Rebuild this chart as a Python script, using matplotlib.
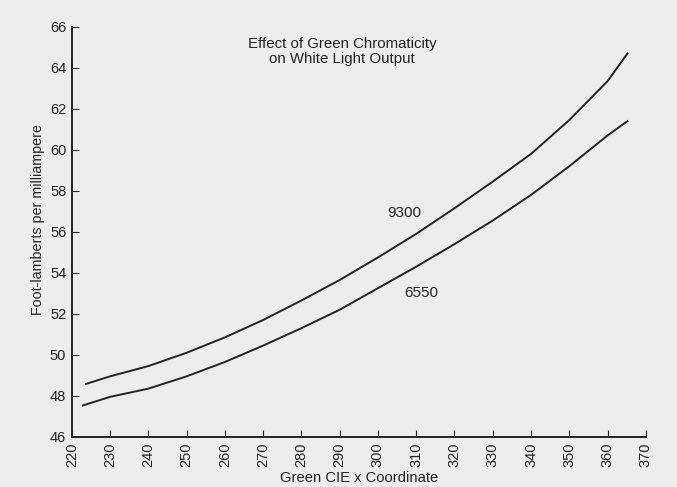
import matplotlib
matplotlib.use("Agg")
import matplotlib.pyplot as plt

plt.rcParams['font.family'] = ['Liberation Sans', 'DejaVu Sans']

# green CIE x coordinate (x1000) vs light output for the two white points
x_9300 = [223.7, 230, 240, 250, 260, 270, 280, 290, 300, 310, 320, 330, 340, 350, 360, 365.2]
y_9300 = [48.58, 48.95, 49.45, 50.1, 50.85, 51.7, 52.65, 53.65, 54.75, 55.9, 57.15, 58.45, 59.8, 61.45, 63.35, 64.7]

x_6550 = [222.9, 230, 240, 250, 260, 270, 280, 290, 300, 310, 320, 330, 340, 350, 360, 365.2]
y_6550 = [47.53, 47.95, 48.35, 48.95, 49.65, 50.45, 51.3, 52.2, 53.25, 54.3, 55.4, 56.55, 57.8, 59.2, 60.7, 61.4]

x_ticks = list(range(220, 371, 10))
y_ticks = list(range(46, 67, 2))

bg = '#ececec'
ink = '#222222'

fig = plt.figure(figsize=(6.77, 4.87), dpi=100, facecolor=bg)
ax = fig.add_axes([0.106, 0.103, 0.848, 0.842], facecolor=bg)

ax.plot(x_9300, y_9300, color=ink, lw=1.4, solid_joinstyle='round')
ax.plot(x_6550, y_6550, color=ink, lw=1.4, solid_joinstyle='round')

# curve labels
ax.text(306.9, 56.9, '9300', fontsize=11, color=ink, ha='center', va='center')
ax.text(311.3, 53.0, '6550', fontsize=11, color=ink, ha='center', va='center')

ax.text(290.7, 64.8, 'Effect of Green Chromaticity\non White Light Output',
        fontsize=10.8, color=ink, ha='center', va='center', linespacing=1.1)

ax.set_xlim(220, 370)
ax.set_ylim(46, 66)
ax.set_xticks(x_ticks)
ax.set_yticks(y_ticks)
ax.tick_params(axis='x', direction='in', length=5, width=0.8, colors=ink,
               labelrotation=90, labelsize=10.5, pad=4)
ax.tick_params(axis='y', direction='in', length=5, width=0.8, colors=ink,
               labelsize=10.5, pad=4)

for side in ('top', 'right'):
    ax.spines[side].set_visible(False)
for side in ('left', 'bottom'):
    ax.spines[side].set_color(ink)
    ax.spines[side].set_linewidth(1.4)

ax.set_xlabel('Green CIE x Coordinate', fontsize=10.6, color=ink)
ax.set_ylabel('Foot-lamberts per milliampere', fontsize=10.3, color=ink)
ax.xaxis.set_label_coords(0.5, -0.083)
ax.yaxis.set_label_coords(-0.047, 0.53)

fig.savefig('out.png', dpi=100, facecolor=bg)
